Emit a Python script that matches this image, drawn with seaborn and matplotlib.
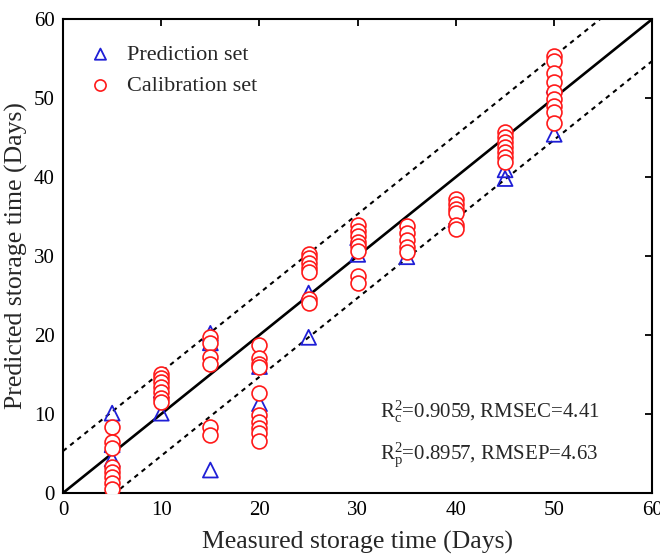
import numpy as np
import pandas as pd
import matplotlib
matplotlib.use("Agg")
import matplotlib.pyplot as plt
import seaborn as sns

# Calibration set: measured vs predicted storage time (days)
cal_measured = [5]*8 + [10]*7 + [15]*6 + [20]*10 + [25]*7 + [30]*8 + [35]*5 + [40]*6 + [45]*7 + [50]*9
cal_predicted = [
    8.3, 6.5, 5.7, 3.3, 2.7, 2.0, 1.2, 0.5,
    15.0, 14.6, 14.0, 13.4, 12.8, 12.0, 11.5,
    19.8, 19.0, 17.2, 16.3, 8.4, 7.3,
    18.7, 17.1, 16.3, 16.0, 12.7, 9.9, 9.0, 8.2, 7.6, 6.6,
    30.3, 29.7, 29.1, 28.5, 28.0, 24.6, 24.1,
    33.9, 33.2, 32.5, 31.8, 31.2, 30.6, 27.4, 26.6,
    33.8, 32.9, 32.0, 31.1, 30.5,
    37.2, 36.6, 36.0, 35.4, 33.9, 33.4,
    45.7, 45.1, 44.4, 43.8, 43.2, 42.5, 41.9,
    55.3, 54.7, 53.1, 52.0, 50.8, 49.9, 49.0, 48.2, 46.8,
]

# Prediction set
pred_measured = [5, 5, 5, 10, 10, 15, 15, 15, 20, 20, 25, 25, 30, 30, 35, 40, 45, 45, 50, 50]
pred_predicted = [10.1, 6.1, 4.3, 10.1, 13.0, 20.2, 19.0, 2.9, 16.0, 11.3,
                  25.3, 19.7, 30.2, 32.3, 29.9, 34.6, 40.9, 39.8, 45.4, 51.6]

# Fit statistics and tolerance band half-width
stats_lines = [r"R$_\mathregular{c}^\mathregular{2}$=0.9059, RMSEC=4.41",
               r"R$_\mathregular{p}^\mathregular{2}$=0.8957, RMSEP=4.63"]
band = 5.3
ticks = [0, 10, 20, 30, 40, 50, 60]

cal_df = pd.DataFrame({"measured": cal_measured, "predicted": cal_predicted})
pred_df = pd.DataFrame({"measured": pred_measured, "predicted": pred_predicted})

sns.set_theme(style="white")
plt.rcParams["font.family"] = ["Liberation Serif", "DejaVu Serif"]
plt.rcParams["mathtext.fontset"] = "custom"
plt.rcParams["mathtext.rm"] = "Liberation Serif"
plt.rcParams["mathtext.it"] = "Liberation Serif:italic"

fig = plt.figure(figsize=(6.6, 5.57), dpi=100)
ax = fig.add_axes([0.0955, 0.115, 0.893, 0.851])

line_x = np.array([0, 60])
ax.plot(line_x, line_x, color="black", lw=1.9, zorder=1)
ax.plot(line_x, line_x + band, color="black", lw=1.5, ls=(0, (2.2, 2.2)), zorder=1)
ax.plot(line_x, line_x - band, color="black", lw=1.5, ls=(0, (2.2, 2.2)), zorder=1)

sns.scatterplot(data=pred_df, x="measured", y="predicted", ax=ax, marker="^",
                s=115, facecolor="none", edgecolor="#1f1fd6", linewidth=1.3,
                label="Prediction set", zorder=3)
sns.scatterplot(data=cal_df, x="measured", y="predicted", ax=ax, marker="o",
                s=115, facecolor="white", edgecolor="#ff1a1a", linewidth=1.2,
                label="Calibration set", zorder=4)

ax.set_xlim(0, 60)
ax.set_ylim(0, 60)
ax.set_xticks(ticks)
ax.set_yticks(ticks)
ax.tick_params(direction="in", length=5, width=1.3, top=True, right=True,
               labelsize=15, colors="black", pad=6)
for sp in ax.spines.values():
    sp.set_linewidth(1.5)
    sp.set_color("black")

ax.set_xlabel("Measured storage time (Days)", fontsize=18.5, labelpad=8)
ax.set_ylabel("Predicted storage time (Days)", fontsize=18.5, labelpad=4)

leg = ax.legend(loc="upper left", frameon=False, fontsize=16, handletextpad=0.5,
                handlelength=1.4, borderaxespad=0.0, labelspacing=0.45,
                markerscale=0.75, bbox_to_anchor=(0.022, 0.965))

ax.text(0.538, 0.158, stats_lines[0], transform=ax.transAxes, fontsize=15)
ax.text(0.538, 0.073, stats_lines[1], transform=ax.transAxes, fontsize=15)

fig.savefig("out.png", dpi=100)
